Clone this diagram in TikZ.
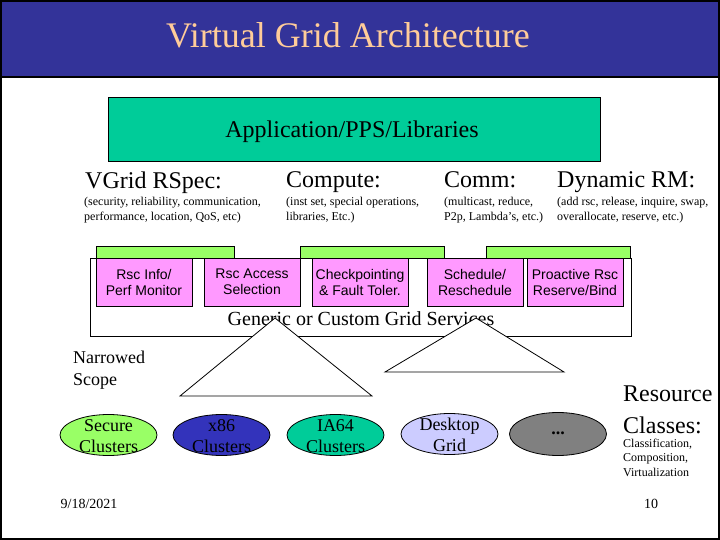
\documentclass[tikz,border=0pt]{standalone}
\usepackage{fontspec}
\setmainfont{Liberation Serif}
\newfontfamily\arialfont{Liberation Sans}
\usetikzlibrary{shapes.geometric}
\definecolor{titleblue}{HTML}{333399}
\definecolor{titletext}{HTML}{FFCC99}
\definecolor{appgreen}{HTML}{00CC99}
\definecolor{lightgreen}{HTML}{99FF66}
\definecolor{pinkfill}{HTML}{FF99FF}
\definecolor{x86blue}{HTML}{3333BB}
\definecolor{desktopblue}{HTML}{CCCCFF}
\definecolor{dotsgray}{HTML}{808080}
\newcommand{\fsz}[2]{\fontsize{#1}{#2}\selectfont}
\tikzset{
  headtxt/.style={anchor=base west, inner sep=0pt, font=\fsz{24}{28}},
  subtxt/.style={anchor=base west, inner sep=0pt, font=\fsz{12}{15}},
  barbox/.style={draw=black, line width=0.8pt, fill=lightgreen},
  pinkbox/.style={draw=black, line width=0.8pt, fill=pinkfill, minimum width=96pt, minimum height=48pt, inner sep=0pt, align=center, font=\arialfont\fsz{14}{16}},
  oval/.style={ellipse, draw=black, line width=0.8pt, minimum width=97pt, minimum height=41pt, inner sep=0pt},
  ovaltxt/.style={align=center, inner sep=0pt, font=\fsz{18}{21}},
  tri/.style={draw=black, line width=0.8pt, fill=white}
}
\begin{document}
\begin{tikzpicture}[x=1pt,y=-1pt]
\useasboundingbox (0,0) rectangle (720,540);
\fill[white] (0,0) rectangle (720,540);
% title bar
\fill[titleblue] (0,0) rectangle (720,77);
\draw[line width=2pt] (0,77.5) -- (720,77.5);
\draw[line width=2pt] (1,1) rectangle (719,539);
\node[anchor=base, inner sep=0pt, text=titletext, font=\fsz{36}{40}] (title) at (348,48) {Virtual Grid Architecture};
% application box
\node[draw=black, line width=0.8pt, fill=appgreen, minimum width=492pt, minimum height=64pt, inner sep=0pt] (app) at (354,129.5) {};
\node[anchor=base, inner sep=0pt, font=\fsz{24}{28}] (apptxt) at (352,138) {Application/PPS/Libraries};
% headers
\node[headtxt] (h1) at (85,189) {VGrid RSpec:};
\node[subtxt] (h1a) at (84,206) {(security, reliability, communication,};
\node[subtxt] (h1b) at (84,221) {performance, location, QoS, etc)};
\node[headtxt] (h2) at (286,188) {Compute:};
\node[subtxt] (h2a) at (286,206) {(inst set, special operations,};
\node[subtxt] (h2b) at (286,221) {libraries, Etc.)};
\node[headtxt] (h3) at (444,188) {Comm:};
\node[subtxt] (h3a) at (444,206) {(multicast, reduce,};
\node[subtxt] (h3b) at (444,221) {P2p, Lambda’s, etc.)};
\node[headtxt] (h4) at (557,188) {Dynamic RM:};
\node[subtxt] (h4a) at (557,206) {(add rsc, release, inquire, swap,};
\node[subtxt] (h4b) at (557,221) {overallocate, reserve, etc.)};
% green bars
\draw[barbox] (96,246) rectangle (234,259);
\draw[barbox] (300,246) rectangle (444,259);
\draw[barbox] (486,246) rectangle (630,259);
% services box
\node[draw=black, line width=0.8pt, fill=white, minimum width=541pt, minimum height=78pt, inner sep=0pt] (svc) at (360.5,297) {};
\node[pinkbox] (p1) at (144,282) {Rsc Info/\\Perf Monitor};
\node[pinkbox] (p2) at (252,282) {Rsc Access\\Selection};
\node[pinkbox] (p3) at (360,282) {Checkpointing\\\& Fault Toler.};
\node[pinkbox] (p4) at (475,282) {Schedule/\\Reschedule};
\node[pinkbox] (p5) at (575,282) {Proactive Rsc\\Reserve/Bind};
\node[anchor=base, inner sep=0pt, font=\fsz{20}{24}] (svctxt) at (361,325) {Generic or Custom Grid Services};
% triangles
\coordinate (t1a) at (275,318);
\coordinate (t1b) at (180,396);
\coordinate (t1c) at (372,396);
\coordinate (t2a) at (476,318);
\coordinate (t2b) at (385,372);
\coordinate (t2c) at (564,372);
\draw[tri] (t1a) -- (t1b) -- (t1c) -- cycle;
\draw[tri] (t2a) -- (t2b) -- (t2c) -- cycle;
% narrowed scope
\node[anchor=base west, inner sep=0pt, font=\fsz{18}{22}] (nar1) at (73,363) {Narrowed};
\node[anchor=base west, inner sep=0pt, font=\fsz{18}{22}] (nar2) at (73,385) {Scope};
% ovals
\node[oval, fill=lightgreen] (o1) at (108.5,435) {};
\node[ovaltxt] (o1t) at (108.5,436) {Secure\\Clusters};
\node[oval, fill=x86blue] (o2) at (221.5,435) {};
\node[ovaltxt] (o2t) at (221.5,436) {x86\\Clusters};
\node[oval, fill=appgreen] (o3) at (335.5,435) {};
\node[ovaltxt] (o3t) at (335.5,436) {IA64\\Clusters};
\node[oval, fill=desktopblue] (o4) at (449.5,434) {};
\node[ovaltxt] (o4t) at (449.5,435) {Desktop\\Grid};
\node[oval, fill=dotsgray, minimum height=43pt] (o5) at (558,434) {};
\node[inner sep=0pt, font=\bfseries\fsz{18}{21}] (o5t) at (558,433) {...};
% resource classes
\node[anchor=base west, inner sep=0pt, font=\fsz{24}{28}] (rc1) at (623,401) {Resource};
\node[anchor=base west, inner sep=0pt, font=\fsz{24}{28}] (rc2) at (623,433) {Classes:};
\node[anchor=base west, inner sep=0pt, font=\fsz{12}{14}] (rc3) at (623,447) {Classification,};
\node[anchor=base west, inner sep=0pt, font=\fsz{12}{14}] (rc4) at (623,461) {Composition,};
\node[anchor=base west, inner sep=0pt, font=\fsz{12}{14}] (rc5) at (623,476) {Virtualization};
% footer
\node[anchor=base, inner sep=0pt, font=\fsz{14}{16}] (date) at (89,508) {9/18/2021};
\node[anchor=base, inner sep=0pt, font=\fsz{14}{16}] (pg) at (651,508) {10};
\end{tikzpicture}
\end{document}
